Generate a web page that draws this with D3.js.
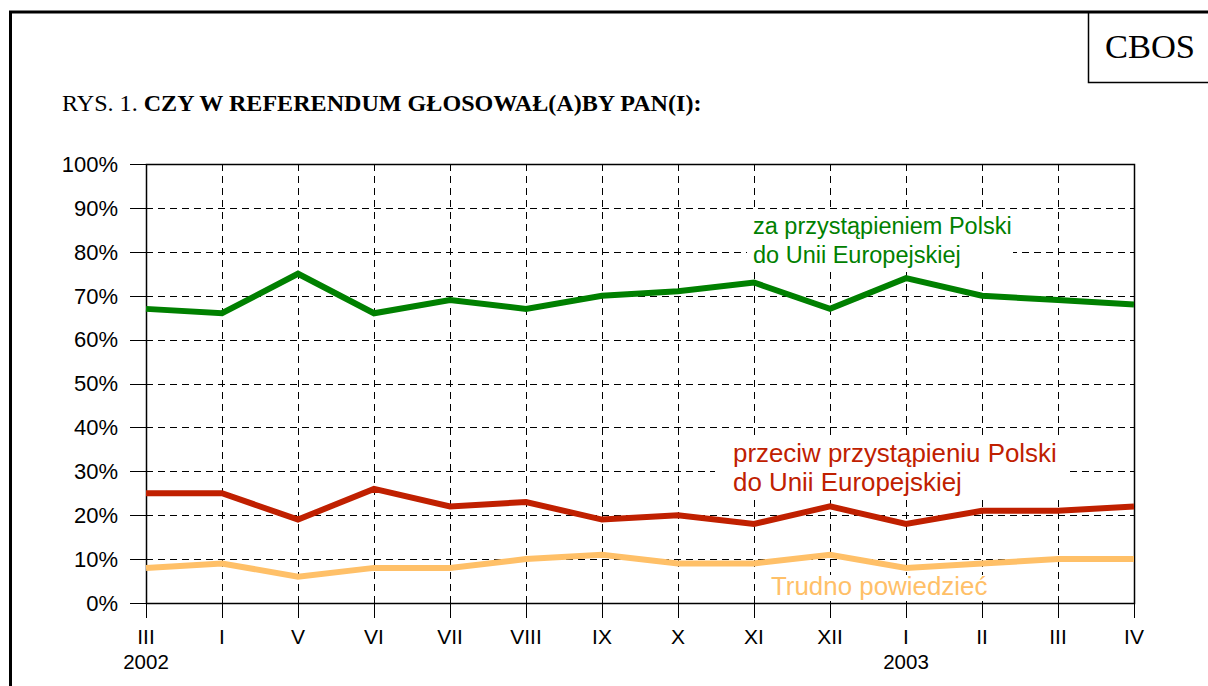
<!DOCTYPE html>
<html><head><meta charset="utf-8">
<script src="https://cdn.jsdelivr.net/npm/d3@7"></script>
<style>body{margin:0;background:#fff}svg{display:block}</style>
</head><body><svg id="c" width="1208" height="686"></svg>
<script>
const months = ["III","I","V","VI","VII","VIII","IX","X","XI","XII","I","II","III","IV"];
const years = [{i:0,label:"2002"},{i:10,label:"2003"}];
const forVals = [67,66,75,66,69,67,70,71,73,67,74,70,69,68];
const againstVals = [25,25,19,26,22,23,19,20,18,22,18,21,21,22];
const unsureVals = [8,9,6,8,8,10,11,9,9,11,8,9,10,10];
const yTicks = [0,10,20,30,40,50,60,70,80,90,100];
const series = [
  {values:forVals,color:"#008000",label:["za przystąpieniem Polski","do Unii Europejskiej"],lx:753,ly:[234,263],fs:23.5,bg:[747,212,266,60]},
  {values:againstVals,color:"#c02000",label:["przeciw przystąpieniu Polski","do Unii Europejskiej"],lx:733,ly:[462,491],fs:25.9,bg:[715,435,355,63]},
  {values:unsureVals,color:"#ffc068",label:["Trudno powiedzieć"],lx:771,ly:[595],fs:25.9,bg:[765,575,230,26]}
];

const svg = d3.select("#c");
const L=146,R=1134,T=164,B=603;
const x = d3.scaleLinear().domain([0,months.length-1]).range([L,R]);
const y = d3.scaleLinear().domain([0,100]).range([B,T]);

// outer frame
svg.append("path").attr("d","M10.5,686 V12 H1208").attr("fill","none").attr("stroke","#000").attr("stroke-width",3);
svg.append("path").attr("d","M1088.5,12 V82.5 H1208").attr("fill","none").attr("stroke","#000").attr("stroke-width",1.5);
svg.append("text").attr("x",1150).attr("y",58).attr("text-anchor","middle")
  .style("font-family","Liberation Serif, Times New Roman, serif").style("font-size","34.5px").text("CBOS");

const t = svg.append("text").attr("x",62).attr("y",111)
  .style("font-family","Liberation Serif, Times New Roman, serif").style("font-size","24.1px");
t.append("tspan").text("RYS. 1. ");
t.append("tspan").style("font-weight","bold").text("CZY W REFERENDUM GŁOSOWAŁ(A)BY PAN(I):");

// grid
const g = svg.append("g");
yTicks.forEach(v=>{
  if(v>0 && v<100) g.append("line").attr("x1",L).attr("x2",R).attr("y1",Math.round(y(v))+0.5).attr("y2",Math.round(y(v))+0.5)
    .attr("stroke","#000").attr("stroke-width",1).attr("stroke-dasharray","7,5");
  g.append("line").attr("x1",L-16).attr("x2",L).attr("y1",Math.round(y(v))+0.5).attr("y2",Math.round(y(v))+0.5).attr("stroke","#000");
});
months.forEach((m,i)=>{
  if(i>0 && i<months.length-1) g.append("line").attr("x1",Math.round(x(i))+0.5).attr("x2",Math.round(x(i))+0.5).attr("y1",T).attr("y2",B)
    .attr("stroke","#000").attr("stroke-dasharray","7,5");
  g.append("line").attr("x1",Math.round(x(i))+0.5).attr("x2",Math.round(x(i))+0.5).attr("y1",B).attr("y2",B+15).attr("stroke","#000");
});
g.append("rect").attr("x",L+0.5).attr("y",T+0.5).attr("width",R-L).attr("height",B-T).attr("fill","none").attr("stroke","#000").attr("stroke-width",1.5);

// axis labels
const sans = "Liberation Sans, Arial, sans-serif";
yTicks.forEach(v=>{
  svg.append("text").attr("x",118).attr("y",y(v)+7.8).attr("text-anchor","end")
    .style("font-family",sans).style("font-size","22px").text(v+"%");
});
months.forEach((m,i)=>{
  svg.append("text").attr("x",x(i)).attr("y",644).attr("text-anchor","middle")
    .style("font-family",sans).style("font-size","21px").text(m);
});
years.forEach(d=>{
  svg.append("text").attr("x",x(d.i)).attr("y",669).attr("text-anchor","middle")
    .style("font-family",sans).style("font-size","20.5px").text(d.label);
});

// label backgrounds
series.forEach(s=>{
  svg.append("rect").attr("x",s.bg[0]).attr("y",s.bg[1]).attr("width",s.bg[2]).attr("height",s.bg[3]).attr("fill","#fff");
});

// lines
const line = d3.line().x((d,i)=>x(i)).y(d=>y(d));
series.forEach(s=>{
  svg.append("path").datum(s.values).attr("d",line).attr("fill","none")
    .attr("stroke",s.color).attr("stroke-width",6).attr("stroke-linejoin","miter");
});
series.forEach(s=>{
  s.label.forEach((l,k)=>{
    svg.append("text").attr("x",s.lx).attr("y",s.ly[k]).style("font-family",sans).style("font-size",s.fs+"px")
      .attr("fill",s.color).text(l);
  });
});
</script></body></html>
